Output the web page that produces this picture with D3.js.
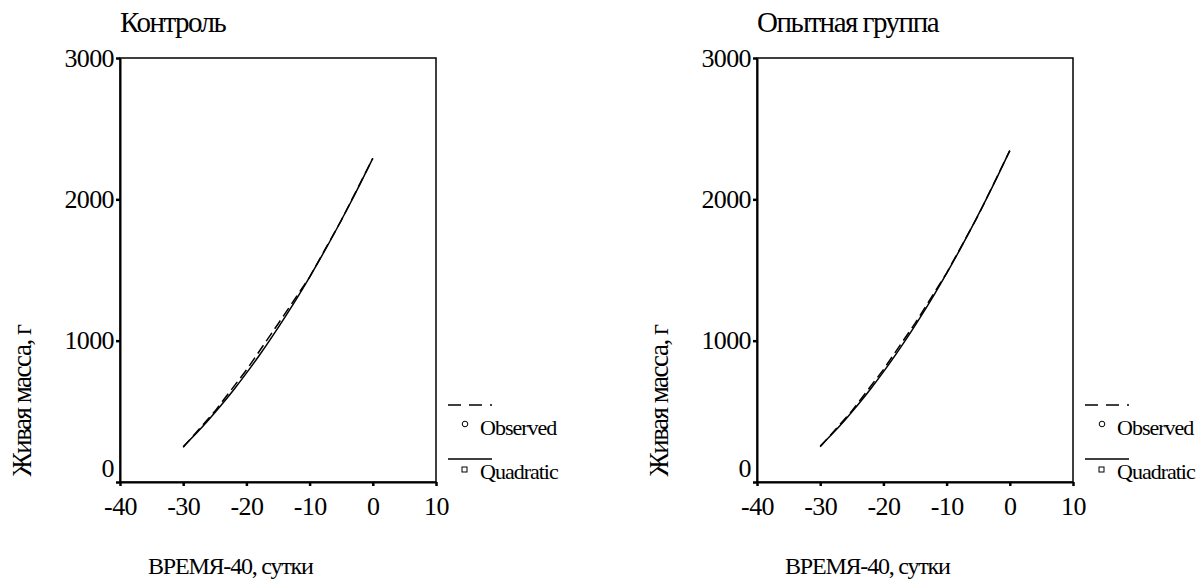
<!DOCTYPE html>
<html>
<head>
<meta charset="utf-8">
<script src="https://cdn.jsdelivr.net/npm/d3@7"></script>
<style>
  body { margin: 0; background: #fff; }
  svg text { font-family: "Liberation Serif", "Times New Roman", serif; fill: #000; letter-spacing: -1px; }
</style>
</head>
<body>
<script>
// days relative to day 40
var obsDays = [-30, -25, -20, -15, -10, -5, 0];
var fitDays = [-30, -28, -26, -24, -22, -20, -18, -16, -14, -12, -10, -8, -6, -4, -2, 0];

// Контроль
var controlObserved = [245, 500, 792, 1118, 1450, 1850, 2290];
var controlQuadratic = [250, 341, 439, 543, 653, 770, 893, 1023, 1159, 1301, 1450, 1605, 1767, 1935, 2109, 2290];

// Опытная группа
var trialObserved = [250, 502, 795, 1122, 1478, 1885, 2345];
var trialQuadratic = [254, 345, 443, 548, 660, 779, 905, 1037, 1177, 1323, 1476, 1636, 1803, 1977, 2157, 2345];

var panelTitles = ['Контроль', 'Опытная группа'];
var xTicks = [-40, -30, -20, -10, 0, 10];
var yTicks = [0, 1000, 2000, 3000];
var xLabel = 'ВРЕМЯ-40, сутки';
var yLabel = 'Живая масса, г';
var legendLabels = ['Observed', 'Quadratic'];

var svg = d3.select('body').append('svg')
    .attr('width', 1198).attr('height', 580);

var panels = [
    { title: panelTitles[0], left: 120, obs: controlObserved, fit: controlQuadratic },
    { title: panelTitles[1], left: 757, obs: trialObserved, fit: trialQuadratic }
];

var plotTop = 58, plotBottom = 482, plotW = 316;

panels.forEach(function( p ){
    var g = svg.append('g');
    var x = d3.scaleLinear().domain([-40, 10]).range([p.left, p.left + plotW]);
    var y = d3.scaleLinear().domain([0, 3000]).range([plotBottom, plotTop]);

    // frame
    g.append('rect')
        .attr('x', p.left).attr('y', plotTop)
        .attr('width', plotW).attr('height', plotBottom - plotTop)
        .attr('fill', 'none').attr('stroke', '#000').attr('stroke-width', 1.5);

    // axes
    var plain = function( d ){ return String(d); };
    var yAxis = g.append('g')
        .attr('transform', 'translate(' + p.left + ',0)')
        .call(d3.axisLeft(y).tickValues(yTicks).tickFormat(plain)
            .tickSize(4).tickSizeOuter(0).tickPadding(2));
    var xAxis = g.append('g')
        .attr('transform', 'translate(0,' + plotBottom + ')')
        .call(d3.axisBottom(x).tickValues(xTicks).tickFormat(plain)
            .tickSize(4).tickSizeOuter(0).tickPadding(11));

    [yAxis, xAxis].forEach(function( a ){
        a.select('.domain').attr('stroke', '#000').attr('stroke-width', 2);
        a.selectAll('.tick line').attr('stroke', '#000').attr('stroke-width', 2.5);
        a.selectAll('.tick text').attr('font-size', 26).attr('fill', '#000')
            .attr('font-family', '"Liberation Serif", serif')
            .style('letter-spacing', '-0.6px');
    });
    // bottom label "0" sits above the corner
    yAxis.selectAll('.tick text').filter(function( d ){ return d === 0; }).attr('y', -14);

    // title
    g.append('text')
        .attr('x', p.left).attr('y', 32)
        .attr('font-size', 29)
        .style('letter-spacing', '-1.5px')
        .text(p.title);

    // axis titles
    g.append('text')
        .attr('x', p.left + 28).attr('y', 574)
        .attr('font-size', 24)
        .style('letter-spacing', '-1.2px')
        .text(xLabel);
    g.append('text')
        .attr('transform', 'translate(' + (p.left - 89) + ',401) rotate(-90)')
        .attr('text-anchor', 'middle')
        .attr('font-size', 27)
        .style('letter-spacing', '-1.5px')
        .text(yLabel);

    // curves
    var obsLine = d3.line()
        .x(function( d, i ){ return x(obsDays[i]); })
        .y(function( d ){ return y(d); });
    var fitLine = d3.line()
        .x(function( d, i ){ return x(fitDays[i]); })
        .y(function( d ){ return y(d); })
        .curve(d3.curveNatural);

    g.append('path')
        .attr('d', obsLine(p.obs))
        .attr('fill', 'none').attr('stroke', '#000').attr('stroke-width', 1.5)
        .attr('stroke-dasharray', '10,5');
    g.append('path')
        .attr('d', fitLine(p.fit))
        .attr('fill', 'none').attr('stroke', '#000').attr('stroke-width', 1.5);

    // legend
    var lx = p.left + plotW + 12;
    g.append('line')
        .attr('x1', lx).attr('x2', lx + 44).attr('y1', 405).attr('y2', 405)
        .attr('stroke', '#000').attr('stroke-width', 1.5).attr('stroke-dasharray', '13,8');
    g.append('circle')
        .attr('cx', lx + 17).attr('cy', 424).attr('r', 2.8)
        .attr('fill', '#fff').attr('stroke', '#000').attr('stroke-width', 1);
    g.append('text')
        .attr('x', lx + 32).attr('y', 435)
        .attr('font-size', 22)
        .text(legendLabels[0]);
    g.append('line')
        .attr('x1', lx).attr('x2', lx + 44).attr('y1', 459).attr('y2', 459)
        .attr('stroke', '#000').attr('stroke-width', 1.5);
    g.append('rect')
        .attr('x', lx + 14).attr('y', 467).attr('width', 5).attr('height', 5)
        .attr('fill', '#fff').attr('stroke', '#000').attr('stroke-width', 1);
    g.append('text')
        .attr('x', lx + 32).attr('y', 479)
        .attr('font-size', 22)
        .text(legendLabels[1]);
});
</script>
</body>
</html>
